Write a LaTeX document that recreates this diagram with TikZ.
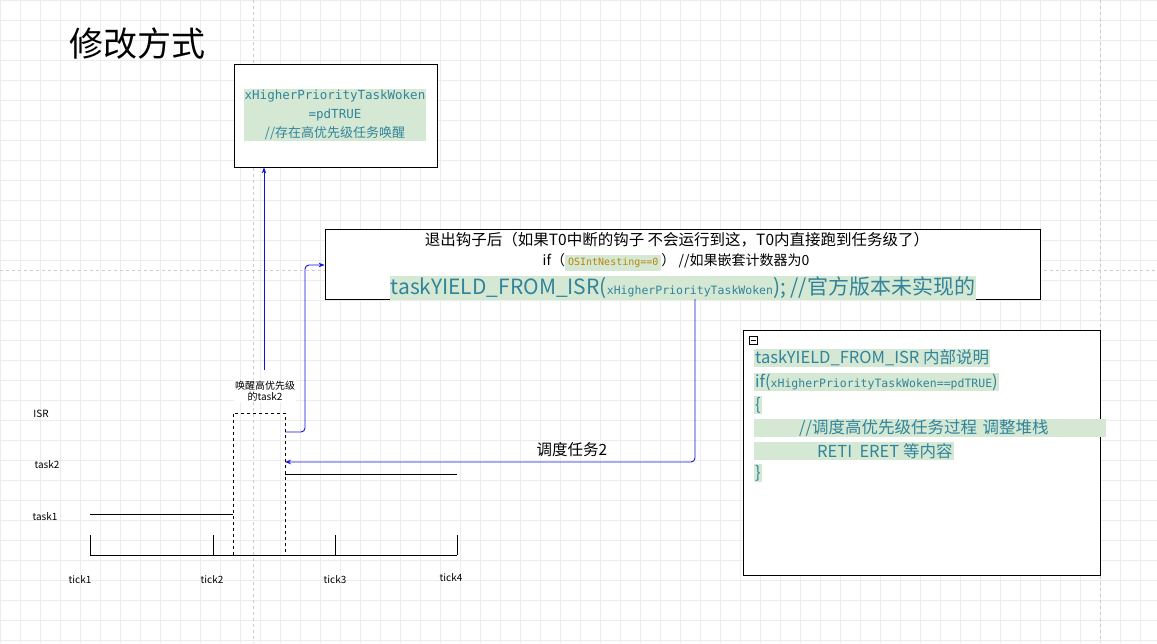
\documentclass[tikz,border=0pt]{standalone}
\usepackage{fontspec}
\setmainfont{Noto Sans CJK SC}
\newfontfamily\codefont{DejaVu Sans Mono}
\usetikzlibrary{positioning,arrows.meta}
\definecolor{codeteal}{HTML}{31849B}
\definecolor{codebg}{HTML}{D5E8D4}
\definecolor{codeolive}{HTML}{B8860B}
\definecolor{wireblue}{HTML}{1010D8}
\begin{document}
\begin{tikzpicture}[x=1pt,y=-1pt,
        framebox/.style={draw,thick,fill=white,inner sep=0pt},
        code/.style={fill=codebg,text=codeteal,inner sep=1pt},
        lbl/.style={font=\fontsize{10}{11}\selectfont},
        wire/.style={wireblue,line width=0.9pt,-{Stealth[length=6pt]},rounded corners=4pt},
    ]
    \useasboundingbox (0,0) rectangle (1157,643);

    % Background grid
    \foreach \x in {0,20,...,1160} {\draw[gray!15] (\x,0) -- (\x,643);}
    \foreach \y in {0,20,...,640} {\draw[gray!15] (0,\y) -- (1157,\y);}
    \draw[gray!40,dashed] (253,0) -- (253,643);
    \draw[gray!40,dashed] (1100,0) -- (1100,643);
    \draw[gray!40,dashed] (0,270) -- (1157,270);

    % Title
    \node[anchor=west,font=\fontsize{34}{36}\selectfont] (title) at (66,44) {修改方式};

    % Flag box
    \node[framebox,minimum width=203,minimum height=103] (flag) at (335.5,115.5) {};
    \node[code,align=center,font=\fontsize{13}{19}\selectfont] (flagtxt) at (335,115)
        {{\codefont\fontsize{12.5}{19}\selectfont xHigherPriorityTaskWoken}\\{\codefont\fontsize{12.5}{19}\selectfont =pdTRUE}\\//存在高优先级任务唤醒};

    % Exit hook box
    \node[framebox,minimum width=715,minimum height=70] (exit) at (682.5,264) {};
    \node[font=\fontsize{15.5}{16}\selectfont] (exitA) at (677,240)
        {退出钩子后（如果T0中断的钩子 不会运行到这，T0内直接跑到任务级了）};
    \node[font=\fontsize{14}{15}\selectfont] (exitB) at (676,262)
        {if（\colorbox{codebg}{\textcolor{codeolive}{\codefont\fontsize{10}{10}\selectfont OSIntNesting==0}}） //如果嵌套计数器为0};
    \node[code,font=\fontsize{21}{22}\selectfont] (exitC) at (683,288)
        {taskYIELD\_FROM\_ISR({\codefont\fontsize{11.5}{12}\selectfont xHigherPriorityTaskWoken}); //官方版本未实现的};

    % Explanation box
    \node[framebox,minimum width=357,minimum height=245] (note) at (921.5,452.5) {};
    \draw (749,336) rectangle (757,344);
    \draw (750.5,340) -- (755.5,340);
    \node[code,anchor=west,font=\fontsize{16.5}{17}\selectfont] (n1) at (754,358) {taskYIELD\_FROM\_ISR 内部说明};
    \node[code,anchor=west,font=\fontsize{16.5}{17}\selectfont] (n2) at (754,382) {if({\codefont\fontsize{11.5}{12}\selectfont xHigherPriorityTaskWoken==pdTRUE})};
    \node[code,anchor=west,font=\fontsize{16.5}{17}\selectfont] (n3) at (754,405) {\{};
    \node[code,anchor=west,font=\fontsize{16.5}{17}\selectfont,text width=350] (n4) at (754,428) {\hspace{44pt}//调度高优先级任务过程 调整堆栈};
    \node[code,anchor=west,font=\fontsize{16.5}{17}\selectfont] (n5) at (754,451) {\hspace{62pt}RETI\ \ ERET 等内容};
    \node[code,anchor=west,font=\fontsize{16.5}{17}\selectfont] (n6) at (754,473) {\}};

    % Timeline
    \draw (90,555) -- (457,555);
    \foreach \x in {90,213,335,457} {
            \draw (\x,535) -- (\x,555);
        }
    \node[lbl] (t1) at (80,580) {tick1};
    \node[lbl] (t2) at (212,580) {tick2};
    \node[lbl] (t3) at (335,580) {tick3};
    \node[lbl] (t4) at (451,578) {tick4};

    \node[lbl] (isr) at (41,414) {ISR};
    \node[lbl] (task2) at (47,465) {task2};
    \node[lbl] (task1) at (45,517) {task1};

    % Task levels
    \draw (90,514) -- (233,514);
    \draw[dashed] (233,555) -- (233,413) -- (285,413) -- (285,555);
    \draw (285,474) -- (457,474);
    \node[lbl,align=center,fill=white,inner sep=1pt] (wake) at (265,391) {唤醒高优先级\\的task2};

    % Connectors
    \coordinate (isrtop) at (264,370);
    \coordinate (isrout) at (285,432);
    \coordinate (isrin) at (285,462);
    \draw[wire] (isrtop) -- (isrtop |- flag.south);
    \draw[wire] (isrout) -- (305,432) -- (305,265) -- (exit.west |- 0,265);
    \draw[wire] (695,299) -- (695,462) -- (isrin);
    \node[font=\fontsize{15.5}{16}\selectfont] (sched) at (572,450) {调度任务2};
\end{tikzpicture}
\end{document}
